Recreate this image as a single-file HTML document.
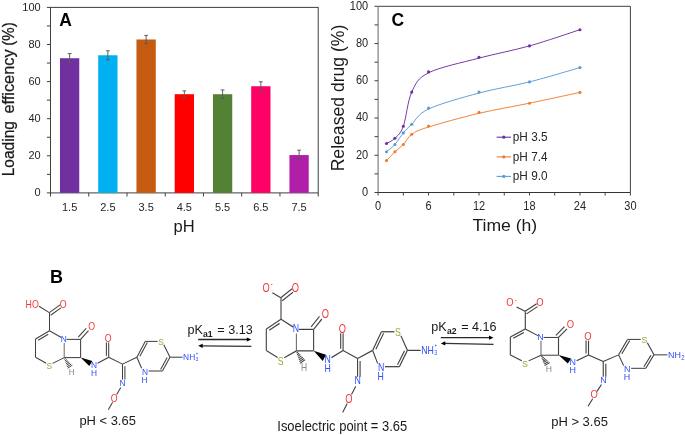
<!DOCTYPE html>
<html><head><meta charset="utf-8"><style>
html,body{margin:0;padding:0;background:#fff;}
body{width:685px;height:435px;overflow:hidden;font-family:"Liberation Sans",sans-serif;}
svg{display:block;will-change:transform;}
</style></head><body>
<svg width="685" height="435" viewBox="0 0 685 435">
<rect width="685" height="435" fill="#fff"/>
<rect x="50.5" y="7.4" width="267.7" height="185.5" fill="none" stroke="#404040" stroke-width="1"/>
<line x1="46.9" y1="192.90" x2="50.5" y2="192.90" stroke="#404040" stroke-width="1"/>
<text x="0" y="0" transform="translate(40.6 196.30) scale(1 1.07)" text-anchor="end" font-size="11" fill="#262626" font-family="Liberation Sans, sans-serif">0</text>
<line x1="46.9" y1="174.35" x2="50.5" y2="174.35" stroke="#404040" stroke-width="1"/>
<line x1="46.9" y1="155.80" x2="50.5" y2="155.80" stroke="#404040" stroke-width="1"/>
<text x="0" y="0" transform="translate(40.6 159.20) scale(1 1.07)" text-anchor="end" font-size="11" fill="#262626" font-family="Liberation Sans, sans-serif">20</text>
<line x1="46.9" y1="137.25" x2="50.5" y2="137.25" stroke="#404040" stroke-width="1"/>
<line x1="46.9" y1="118.70" x2="50.5" y2="118.70" stroke="#404040" stroke-width="1"/>
<text x="0" y="0" transform="translate(40.6 122.10) scale(1 1.07)" text-anchor="end" font-size="11" fill="#262626" font-family="Liberation Sans, sans-serif">40</text>
<line x1="46.9" y1="100.15" x2="50.5" y2="100.15" stroke="#404040" stroke-width="1"/>
<line x1="46.9" y1="81.60" x2="50.5" y2="81.60" stroke="#404040" stroke-width="1"/>
<text x="0" y="0" transform="translate(40.6 85.00) scale(1 1.07)" text-anchor="end" font-size="11" fill="#262626" font-family="Liberation Sans, sans-serif">60</text>
<line x1="46.9" y1="63.05" x2="50.5" y2="63.05" stroke="#404040" stroke-width="1"/>
<line x1="46.9" y1="44.50" x2="50.5" y2="44.50" stroke="#404040" stroke-width="1"/>
<text x="0" y="0" transform="translate(40.6 47.90) scale(1 1.07)" text-anchor="end" font-size="11" fill="#262626" font-family="Liberation Sans, sans-serif">80</text>
<line x1="46.9" y1="25.95" x2="50.5" y2="25.95" stroke="#404040" stroke-width="1"/>
<line x1="46.9" y1="7.40" x2="50.5" y2="7.40" stroke="#404040" stroke-width="1"/>
<text x="0" y="0" transform="translate(40.6 10.80) scale(1 1.07)" text-anchor="end" font-size="11" fill="#262626" font-family="Liberation Sans, sans-serif">100</text>
<rect x="59.97" y="58.23" width="19.3" height="134.67" fill="#7030A0"/>
<path d="M67.72 53.59H71.52M69.62 53.59V62.86M67.72 62.86H71.52" stroke="#5a5a5a" stroke-width="0.95" fill="none"/>
<text x="69.62" y="210.5" text-anchor="middle" font-size="11" fill="#262626" font-family="Liberation Sans, sans-serif">1.5</text>
<rect x="98.21" y="55.26" width="19.3" height="137.64" fill="#00B0F0"/>
<path d="M105.96 50.81H109.76M107.86 50.81V59.71M105.96 59.71H109.76" stroke="#5a5a5a" stroke-width="0.95" fill="none"/>
<text x="107.86" y="210.5" text-anchor="middle" font-size="11" fill="#262626" font-family="Liberation Sans, sans-serif">2.5</text>
<rect x="136.46" y="39.49" width="19.3" height="153.41" fill="#C55A11"/>
<path d="M144.21 35.41H148.01M146.11 35.41V43.57M144.21 43.57H148.01" stroke="#5a5a5a" stroke-width="0.95" fill="none"/>
<text x="146.11" y="210.5" text-anchor="middle" font-size="11" fill="#262626" font-family="Liberation Sans, sans-serif">3.5</text>
<rect x="174.70" y="94.21" width="19.3" height="98.69" fill="#FF0000"/>
<path d="M182.45 90.88H186.25M184.35 90.88V97.55M182.45 97.55H186.25" stroke="#5a5a5a" stroke-width="0.95" fill="none"/>
<text x="184.35" y="210.5" text-anchor="middle" font-size="11" fill="#262626" font-family="Liberation Sans, sans-serif">4.5</text>
<rect x="212.94" y="94.21" width="19.3" height="98.69" fill="#548235"/>
<path d="M220.69 89.95H224.49M222.59 89.95V98.48M220.69 98.48H224.49" stroke="#5a5a5a" stroke-width="0.95" fill="none"/>
<text x="222.59" y="210.5" text-anchor="middle" font-size="11" fill="#262626" font-family="Liberation Sans, sans-serif">5.5</text>
<rect x="251.19" y="86.24" width="19.3" height="106.66" fill="#FF0066"/>
<path d="M258.94 81.79H262.74M260.84 81.79V90.69M258.94 90.69H262.74" stroke="#5a5a5a" stroke-width="0.95" fill="none"/>
<text x="260.84" y="210.5" text-anchor="middle" font-size="11" fill="#262626" font-family="Liberation Sans, sans-serif">6.5</text>
<rect x="289.43" y="155.06" width="19.3" height="37.84" fill="#B11FA8"/>
<path d="M297.18 150.23H300.98M299.08 150.23V159.88M297.18 159.88H300.98" stroke="#5a5a5a" stroke-width="0.95" fill="none"/>
<text x="299.08" y="210.5" text-anchor="middle" font-size="11" fill="#262626" font-family="Liberation Sans, sans-serif">7.5</text>
<line x1="50.50" y1="192.9" x2="50.50" y2="196.5" stroke="#404040" stroke-width="1"/>
<line x1="88.74" y1="192.9" x2="88.74" y2="196.5" stroke="#404040" stroke-width="1"/>
<line x1="126.99" y1="192.9" x2="126.99" y2="196.5" stroke="#404040" stroke-width="1"/>
<line x1="165.23" y1="192.9" x2="165.23" y2="196.5" stroke="#404040" stroke-width="1"/>
<line x1="203.47" y1="192.9" x2="203.47" y2="196.5" stroke="#404040" stroke-width="1"/>
<line x1="241.71" y1="192.9" x2="241.71" y2="196.5" stroke="#404040" stroke-width="1"/>
<line x1="279.96" y1="192.9" x2="279.96" y2="196.5" stroke="#404040" stroke-width="1"/>
<line x1="318.20" y1="192.9" x2="318.20" y2="196.5" stroke="#404040" stroke-width="1"/>
<g transform="translate(14.3 0) rotate(-90)" font-size="16" fill="#1a1a1a" stroke="#1a1a1a" stroke-width="0.25" font-family="Liberation Sans, sans-serif"><text x="-176.3" y="0" textLength="55.2" lengthAdjust="spacingAndGlyphs">Loading</text><text x="-113.6" y="0" textLength="64.2" lengthAdjust="spacingAndGlyphs">efficency</text><text x="-45.7" y="0" textLength="23.4" lengthAdjust="spacingAndGlyphs">(%)</text></g>
<text x="184.1" y="231.7" text-anchor="middle" font-size="16.5" fill="#1a1a1a" font-family="Liberation Sans, sans-serif">pH</text>
<text x="59.3" y="25.8" font-size="17.5" font-weight="bold" fill="#000" font-family="Liberation Sans, sans-serif">A</text>
<path d="M378.1 6.3H630.4V192.5" fill="none" stroke="#404040" stroke-width="1"/>
<line x1="378.1" y1="192.5" x2="630.4" y2="192.5" stroke="#333" stroke-width="1.1"/>
<line x1="378.1" y1="6.3" x2="378.1" y2="192.5" stroke="#7f7f7f" stroke-width="1.2"/>
<line x1="374.5" y1="192.50" x2="378.1" y2="192.50" stroke="#404040" stroke-width="1"/>
<text x="0" y="0" transform="translate(368.2 195.80) scale(1 1.11)" text-anchor="end" font-size="11" fill="#262626" font-family="Liberation Sans, sans-serif">0</text>
<line x1="374.5" y1="173.88" x2="378.1" y2="173.88" stroke="#404040" stroke-width="1"/>
<line x1="374.5" y1="155.26" x2="378.1" y2="155.26" stroke="#404040" stroke-width="1"/>
<text x="0" y="0" transform="translate(368.2 158.56) scale(1 1.11)" text-anchor="end" font-size="11" fill="#262626" font-family="Liberation Sans, sans-serif">20</text>
<line x1="374.5" y1="136.64" x2="378.1" y2="136.64" stroke="#404040" stroke-width="1"/>
<line x1="374.5" y1="118.02" x2="378.1" y2="118.02" stroke="#404040" stroke-width="1"/>
<text x="0" y="0" transform="translate(368.2 121.32) scale(1 1.11)" text-anchor="end" font-size="11" fill="#262626" font-family="Liberation Sans, sans-serif">40</text>
<line x1="374.5" y1="99.40" x2="378.1" y2="99.40" stroke="#404040" stroke-width="1"/>
<line x1="374.5" y1="80.78" x2="378.1" y2="80.78" stroke="#404040" stroke-width="1"/>
<text x="0" y="0" transform="translate(368.2 84.08) scale(1 1.11)" text-anchor="end" font-size="11" fill="#262626" font-family="Liberation Sans, sans-serif">60</text>
<line x1="374.5" y1="62.16" x2="378.1" y2="62.16" stroke="#404040" stroke-width="1"/>
<line x1="374.5" y1="43.54" x2="378.1" y2="43.54" stroke="#404040" stroke-width="1"/>
<text x="0" y="0" transform="translate(368.2 46.84) scale(1 1.11)" text-anchor="end" font-size="11" fill="#262626" font-family="Liberation Sans, sans-serif">80</text>
<line x1="374.5" y1="24.92" x2="378.1" y2="24.92" stroke="#404040" stroke-width="1"/>
<line x1="374.5" y1="6.30" x2="378.1" y2="6.30" stroke="#404040" stroke-width="1"/>
<text x="0" y="0" transform="translate(368.2 9.60) scale(1 1.11)" text-anchor="end" font-size="11" fill="#262626" font-family="Liberation Sans, sans-serif">100</text>
<line x1="378.10" y1="192.5" x2="378.10" y2="195.5" stroke="#404040" stroke-width="1"/>
<text x="0" y="0" transform="translate(378.10 209.8) scale(1 1.12)" text-anchor="middle" font-size="11" fill="#262626" font-family="Liberation Sans, sans-serif">0</text>
<line x1="403.33" y1="192.5" x2="403.33" y2="195.5" stroke="#404040" stroke-width="1"/>
<line x1="428.56" y1="192.5" x2="428.56" y2="195.5" stroke="#404040" stroke-width="1"/>
<text x="0" y="0" transform="translate(428.56 209.8) scale(1 1.12)" text-anchor="middle" font-size="11" fill="#262626" font-family="Liberation Sans, sans-serif">6</text>
<line x1="453.79" y1="192.5" x2="453.79" y2="195.5" stroke="#404040" stroke-width="1"/>
<line x1="479.02" y1="192.5" x2="479.02" y2="195.5" stroke="#404040" stroke-width="1"/>
<text x="0" y="0" transform="translate(479.02 209.8) scale(1 1.12)" text-anchor="middle" font-size="11" fill="#262626" font-family="Liberation Sans, sans-serif">12</text>
<line x1="504.25" y1="192.5" x2="504.25" y2="195.5" stroke="#404040" stroke-width="1"/>
<line x1="529.48" y1="192.5" x2="529.48" y2="195.5" stroke="#404040" stroke-width="1"/>
<text x="0" y="0" transform="translate(529.48 209.8) scale(1 1.12)" text-anchor="middle" font-size="11" fill="#262626" font-family="Liberation Sans, sans-serif">18</text>
<line x1="554.71" y1="192.5" x2="554.71" y2="195.5" stroke="#404040" stroke-width="1"/>
<line x1="579.94" y1="192.5" x2="579.94" y2="195.5" stroke="#404040" stroke-width="1"/>
<text x="0" y="0" transform="translate(579.94 209.8) scale(1 1.12)" text-anchor="middle" font-size="11" fill="#262626" font-family="Liberation Sans, sans-serif">24</text>
<line x1="605.17" y1="192.5" x2="605.17" y2="195.5" stroke="#404040" stroke-width="1"/>
<line x1="630.40" y1="192.5" x2="630.40" y2="195.5" stroke="#404040" stroke-width="1"/>
<text x="0" y="0" transform="translate(630.40 209.8) scale(1 1.12)" text-anchor="middle" font-size="11" fill="#262626" font-family="Liberation Sans, sans-serif">30</text>
<text x="0" y="0" transform="translate(343.6 98) rotate(-90)" text-anchor="middle" font-size="17.6" fill="#1a1a1a" font-family="Liberation Sans, sans-serif">Released drug (%)</text>
<text x="0" y="0" transform="translate(504.8 230.8) scale(1.067 1)" text-anchor="middle" font-size="16.5" fill="#1a1a1a" font-family="Liberation Sans, sans-serif">Time (h)</text>
<text x="391.5" y="25.7" font-size="17.5" font-weight="bold" fill="#000" font-family="Liberation Sans, sans-serif">C</text>
<path d="M386.51 143.50C387.91 142.63 392.12 141.17 394.92 138.30C397.72 135.43 400.53 134.00 403.33 126.30C406.13 118.60 407.54 101.02 411.74 92.10C415.94 83.18 417.35 78.47 428.56 72.80C439.77 67.13 462.20 62.58 479.02 58.10C495.84 53.62 512.66 50.63 529.48 45.90C546.30 41.17 571.53 32.40 579.94 29.70" fill="none" stroke="#7030A0" stroke-width="0.95"/>
<circle cx="386.51" cy="143.50" r="1.55" fill="#7030A0"/>
<circle cx="394.92" cy="138.30" r="1.55" fill="#7030A0"/>
<circle cx="403.33" cy="126.30" r="1.55" fill="#7030A0"/>
<circle cx="411.74" cy="92.10" r="1.55" fill="#7030A0"/>
<circle cx="428.56" cy="71.90" r="1.55" fill="#7030A0"/>
<circle cx="479.02" cy="57.20" r="1.55" fill="#7030A0"/>
<circle cx="529.48" cy="45.90" r="1.55" fill="#7030A0"/>
<circle cx="579.94" cy="29.70" r="1.55" fill="#7030A0"/>
<path d="M386.51 160.60C387.91 159.13 392.12 154.48 394.92 151.80C397.72 149.12 400.53 147.42 403.33 144.50C406.13 141.58 407.54 137.22 411.74 134.30C415.94 131.38 417.35 130.50 428.56 127.00C439.77 123.50 462.20 117.27 479.02 113.30C495.84 109.33 512.66 106.68 529.48 103.20C546.30 99.72 571.53 94.20 579.94 92.40" fill="none" stroke="#ED7D31" stroke-width="0.95"/>
<circle cx="386.51" cy="160.60" r="1.55" fill="#ED7D31"/>
<circle cx="394.92" cy="151.80" r="1.55" fill="#ED7D31"/>
<circle cx="403.33" cy="144.50" r="1.55" fill="#ED7D31"/>
<circle cx="411.74" cy="134.30" r="1.55" fill="#ED7D31"/>
<circle cx="428.56" cy="126.10" r="1.55" fill="#ED7D31"/>
<circle cx="479.02" cy="112.40" r="1.55" fill="#ED7D31"/>
<circle cx="529.48" cy="103.20" r="1.55" fill="#ED7D31"/>
<circle cx="579.94" cy="92.40" r="1.55" fill="#ED7D31"/>
<path d="M386.51 151.70C387.91 150.50 392.12 147.63 394.92 144.50C397.72 141.37 400.53 136.28 403.33 132.90C406.13 129.52 407.54 128.18 411.74 124.20C415.94 120.22 417.35 114.20 428.56 109.00C439.77 103.80 462.20 97.52 479.02 93.00C495.84 88.48 512.66 86.13 529.48 81.90C546.30 77.67 571.53 69.98 579.94 67.60" fill="none" stroke="#5B9BD5" stroke-width="0.95"/>
<circle cx="386.51" cy="151.70" r="1.55" fill="#5B9BD5"/>
<circle cx="394.92" cy="144.50" r="1.55" fill="#5B9BD5"/>
<circle cx="403.33" cy="132.90" r="1.55" fill="#5B9BD5"/>
<circle cx="411.74" cy="124.20" r="1.55" fill="#5B9BD5"/>
<circle cx="428.56" cy="108.10" r="1.55" fill="#5B9BD5"/>
<circle cx="479.02" cy="92.10" r="1.55" fill="#5B9BD5"/>
<circle cx="529.48" cy="81.90" r="1.55" fill="#5B9BD5"/>
<circle cx="579.94" cy="67.60" r="1.55" fill="#5B9BD5"/>
<line x1="496.6" y1="137.2" x2="511" y2="137.2" stroke="#7030A0" stroke-width="1.1"/>
<circle cx="503.8" cy="137.2" r="1.6" fill="#7030A0"/>
<text x="0" y="0" transform="translate(512.8 141.2) scale(1 1.1)" font-size="11.8" fill="#262626" font-family="Liberation Sans, sans-serif">pH 3.5</text>
<line x1="496.6" y1="156.9" x2="511" y2="156.9" stroke="#ED7D31" stroke-width="1.1"/>
<circle cx="503.8" cy="156.9" r="1.6" fill="#ED7D31"/>
<text x="0" y="0" transform="translate(512.8 160.9) scale(1 1.1)" font-size="11.8" fill="#262626" font-family="Liberation Sans, sans-serif">pH 7.4</text>
<line x1="496.6" y1="176.4" x2="511" y2="176.4" stroke="#5B9BD5" stroke-width="1.1"/>
<circle cx="503.8" cy="176.4" r="1.6" fill="#5B9BD5"/>
<text x="0" y="0" transform="translate(512.8 180.4) scale(1 1.1)" font-size="11.8" fill="#262626" font-family="Liberation Sans, sans-serif">pH 9.0</text>
<text x="50" y="282.8" font-size="18" font-weight="bold" fill="#000" font-family="Liberation Sans, sans-serif">B</text>
<g><text transform="translate(32.2 307.5) scale(0.95 1.2)" text-anchor="middle" font-size="9.3" fill="#f0393c" font-family="Liberation Sans, sans-serif">HO</text>
<text transform="translate(63.2 307.5) scale(0.95 1.2)" text-anchor="middle" font-size="9.3" fill="#f0393c" font-family="Liberation Sans, sans-serif">O</text>
<line x1="39" y1="306.3" x2="49.3" y2="312.6" stroke="#404040" stroke-width="1.05"/>
<line x1="49.3" y1="312.6" x2="60.1" y2="304.9" stroke="#404040" stroke-width="1.05"/>
<line x1="50.6" y1="315.2" x2="60.9" y2="307.9" stroke="#404040" stroke-width="1.05"/>
<line x1="49.5" y1="312.6" x2="49.5" y2="330.8" stroke="#404040" stroke-width="1.05"/>
<line x1="49.5" y1="330.8" x2="61.3" y2="337.5" stroke="#404040" stroke-width="1.05"/>
<text transform="translate(63.8 341.9) scale(0.9 1.05)" text-anchor="middle" font-size="9.3" fill="#3050f8" font-family="Liberation Sans, sans-serif">N</text>
<line x1="49.5" y1="330.8" x2="35.5" y2="339" stroke="#404040" stroke-width="1.05"/>
<line x1="48.2" y1="334.3" x2="38.2" y2="340.2" stroke="#404040" stroke-width="1.05"/>
<line x1="35.5" y1="339" x2="35.5" y2="357.3" stroke="#404040" stroke-width="1.05"/>
<line x1="35.5" y1="357.3" x2="46.2" y2="363.2" stroke="#404040" stroke-width="1.05"/>
<text transform="translate(49.3 369.2) scale(0.9 1.05)" text-anchor="middle" font-size="9.3" fill="#a3a33a" font-family="Liberation Sans, sans-serif">S</text>
<line x1="52.6" y1="363.4" x2="64.2" y2="357.6" stroke="#404040" stroke-width="1.05"/>
<line x1="64.2" y1="357.6" x2="64.2" y2="342.9" stroke="#707070" stroke-width="1.05"/>
<line x1="66.6" y1="339.4" x2="80.6" y2="339.4" stroke="#404040" stroke-width="1.05"/>
<line x1="80.6" y1="339.4" x2="80.6" y2="357.6" stroke="#404040" stroke-width="1.05"/>
<line x1="64.2" y1="357.6" x2="80.6" y2="357.6" stroke="#404040" stroke-width="1.05"/>
<line x1="80.6" y1="339.4" x2="88.5" y2="330.6" stroke="#404040" stroke-width="1.05"/>
<line x1="78.2" y1="337.2" x2="86.2" y2="328.4" stroke="#404040" stroke-width="1.05"/>
<text transform="translate(91.7 330.0) scale(0.95 1.2)" text-anchor="middle" font-size="9.3" fill="#f0393c" font-family="Liberation Sans, sans-serif">O</text>
<line x1="64.33" y1="359.34" x2="65.72" y2="358.46" stroke="#3a3a3a" stroke-width="0.95"/>
<line x1="64.88" y1="360.82" x2="66.82" y2="359.58" stroke="#3a3a3a" stroke-width="0.95"/>
<line x1="65.43" y1="362.29" x2="67.92" y2="360.71" stroke="#3a3a3a" stroke-width="0.95"/>
<line x1="65.98" y1="363.76" x2="69.02" y2="361.84" stroke="#3a3a3a" stroke-width="0.95"/>
<line x1="66.53" y1="365.24" x2="70.12" y2="362.96" stroke="#3a3a3a" stroke-width="0.95"/>
<line x1="67.08" y1="366.71" x2="71.22" y2="364.09" stroke="#3a3a3a" stroke-width="0.95"/>
<line x1="67.63" y1="368.19" x2="72.32" y2="365.21" stroke="#3a3a3a" stroke-width="0.95"/>
<text transform="translate(71.6 374.7) scale(0.9 1.05)" text-anchor="middle" font-size="9.0" fill="#8a8a8a" font-family="Liberation Sans, sans-serif">H</text>
<polygon points="80.6,357.4 89.3,366.1 92.4,360.9" fill="#000"/>
<text transform="translate(94.0 368.1) scale(0.9 1.05)" text-anchor="middle" font-size="9.3" fill="#3050f8" font-family="Liberation Sans, sans-serif">N</text>
<text transform="translate(94.0 375.6) scale(0.9 1.05)" text-anchor="middle" font-size="9.3" fill="#3050f8" font-family="Liberation Sans, sans-serif">H</text>
<line x1="97.6" y1="363.3" x2="108.7" y2="357.3" stroke="#404040" stroke-width="1.05"/>
<line x1="108.7" y1="357.3" x2="108.7" y2="342.6" stroke="#404040" stroke-width="1.05"/>
<line x1="106.4" y1="355.8" x2="106.4" y2="342.6" stroke="#404040" stroke-width="1.05"/>
<text transform="translate(108.1 342.4) scale(0.95 1.2)" text-anchor="middle" font-size="9.3" fill="#f0393c" font-family="Liberation Sans, sans-serif">O</text>
<line x1="108.7" y1="357.3" x2="122.5" y2="364.1" stroke="#404040" stroke-width="1.05"/>
<line x1="122.5" y1="364.1" x2="122.5" y2="379.6" stroke="#404040" stroke-width="1.05"/>
<line x1="124.9" y1="366.2" x2="124.9" y2="379.6" stroke="#404040" stroke-width="1.05"/>
<text transform="translate(122.6 385.7) scale(0.9 1.05)" text-anchor="middle" font-size="9.3" fill="#3050f8" font-family="Liberation Sans, sans-serif">N</text>
<line x1="120.8" y1="387.6" x2="116.7" y2="394.6" stroke="#404040" stroke-width="1.05"/>
<text transform="translate(114.1 401.6) scale(0.95 1.2)" text-anchor="middle" font-size="9.3" fill="#f0393c" font-family="Liberation Sans, sans-serif">O</text>
<line x1="112.6" y1="402.2" x2="108.3" y2="409.8" stroke="#404040" stroke-width="1.05"/>
<line x1="122.5" y1="364.1" x2="136.9" y2="357.2" stroke="#404040" stroke-width="1.05"/>
<line x1="136.9" y1="357.2" x2="145.2" y2="341.4" stroke="#404040" stroke-width="1.05"/>
<line x1="139.9" y1="356.2" x2="147.3" y2="342.6" stroke="#404040" stroke-width="1.05"/>
<line x1="145.2" y1="341.4" x2="157.6" y2="341.4" stroke="#404040" stroke-width="1.05"/>
<text transform="translate(161.0 344.8) scale(0.9 1.05)" text-anchor="middle" font-size="9.3" fill="#a3a33a" font-family="Liberation Sans, sans-serif">S</text>
<line x1="163.8" y1="344.8" x2="170" y2="357.2" stroke="#404040" stroke-width="1.05"/>
<line x1="170" y1="357.2" x2="162.4" y2="371" stroke="#404040" stroke-width="1.05"/>
<line x1="167.2" y1="357.6" x2="160.6" y2="369.4" stroke="#404040" stroke-width="1.05"/>
<line x1="162.4" y1="371" x2="148.6" y2="371" stroke="#404040" stroke-width="1.05"/>
<text transform="translate(144.9 374.5) scale(0.9 1.05)" text-anchor="middle" font-size="9.3" fill="#3050f8" font-family="Liberation Sans, sans-serif">N</text>
<text transform="translate(144.6 382.6) scale(0.9 1.05)" text-anchor="middle" font-size="9.3" fill="#3050f8" font-family="Liberation Sans, sans-serif">H</text>
<line x1="141.6" y1="368.2" x2="136.9" y2="357.2" stroke="#404040" stroke-width="1.05"/>
<line x1="170" y1="357.2" x2="182.6" y2="357.2" stroke="#404040" stroke-width="1.05"/>
<text transform="translate(183.1 360.2) scale(0.9 1.05)" text-anchor="start" font-size="9.3" fill="#3050f8" font-family="Liberation Sans, sans-serif">NH</text>
<text transform="translate(195.5 361.2) scale(0.9 1.05)" text-anchor="start" font-size="5.6" fill="#3050f8" font-family="Liberation Sans, sans-serif">3</text>
<text transform="translate(195.8 354.6) scale(0.9 1.05)" text-anchor="start" font-size="4.8" fill="#3050f8" font-family="Liberation Sans, sans-serif">+</text></g>
<g transform="matrix(1.049 0 0 1.1796 229.07 -70.96)"><text transform="translate(35.2 307.5) scale(0.95 1.2)" text-anchor="middle" font-size="9.3" fill="#f0393c" font-family="Liberation Sans, sans-serif">O</text>
<text transform="translate(40.6 303.4) scale(0.9 1.05)" text-anchor="middle" font-size="7" fill="#f0393c" font-family="Liberation Sans, sans-serif">-</text>
<text transform="translate(63.2 307.5) scale(0.95 1.2)" text-anchor="middle" font-size="9.3" fill="#f0393c" font-family="Liberation Sans, sans-serif">O</text>
<line x1="41.3" y1="308.3" x2="49.3" y2="312.6" stroke="#404040" stroke-width="1.05"/>
<line x1="49.3" y1="312.6" x2="60.1" y2="304.9" stroke="#404040" stroke-width="1.05"/>
<line x1="50.6" y1="315.2" x2="60.9" y2="307.9" stroke="#404040" stroke-width="1.05"/>
<line x1="49.5" y1="312.6" x2="49.5" y2="330.8" stroke="#404040" stroke-width="1.05"/>
<line x1="49.5" y1="330.8" x2="61.3" y2="337.5" stroke="#404040" stroke-width="1.05"/>
<text transform="translate(63.8 341.9) scale(0.9 1.05)" text-anchor="middle" font-size="9.3" fill="#3050f8" font-family="Liberation Sans, sans-serif">N</text>
<line x1="49.5" y1="330.8" x2="35.5" y2="339" stroke="#404040" stroke-width="1.05"/>
<line x1="48.2" y1="334.3" x2="38.2" y2="340.2" stroke="#404040" stroke-width="1.05"/>
<line x1="35.5" y1="339" x2="35.5" y2="357.3" stroke="#404040" stroke-width="1.05"/>
<line x1="35.5" y1="357.3" x2="46.2" y2="363.2" stroke="#404040" stroke-width="1.05"/>
<text transform="translate(49.3 369.2) scale(0.9 1.05)" text-anchor="middle" font-size="9.3" fill="#a3a33a" font-family="Liberation Sans, sans-serif">S</text>
<line x1="52.6" y1="363.4" x2="64.2" y2="357.6" stroke="#404040" stroke-width="1.05"/>
<line x1="64.2" y1="357.6" x2="64.2" y2="342.9" stroke="#707070" stroke-width="1.05"/>
<line x1="66.6" y1="339.4" x2="80.6" y2="339.4" stroke="#404040" stroke-width="1.05"/>
<line x1="80.6" y1="339.4" x2="80.6" y2="357.6" stroke="#404040" stroke-width="1.05"/>
<line x1="64.2" y1="357.6" x2="80.6" y2="357.6" stroke="#404040" stroke-width="1.05"/>
<line x1="80.6" y1="339.4" x2="88.5" y2="330.6" stroke="#404040" stroke-width="1.05"/>
<line x1="78.2" y1="337.2" x2="86.2" y2="328.4" stroke="#404040" stroke-width="1.05"/>
<text transform="translate(91.7 330.0) scale(0.95 1.2)" text-anchor="middle" font-size="9.3" fill="#f0393c" font-family="Liberation Sans, sans-serif">O</text>
<line x1="64.33" y1="359.34" x2="65.72" y2="358.46" stroke="#3a3a3a" stroke-width="0.95"/>
<line x1="64.88" y1="360.82" x2="66.82" y2="359.58" stroke="#3a3a3a" stroke-width="0.95"/>
<line x1="65.43" y1="362.29" x2="67.92" y2="360.71" stroke="#3a3a3a" stroke-width="0.95"/>
<line x1="65.98" y1="363.76" x2="69.02" y2="361.84" stroke="#3a3a3a" stroke-width="0.95"/>
<line x1="66.53" y1="365.24" x2="70.12" y2="362.96" stroke="#3a3a3a" stroke-width="0.95"/>
<line x1="67.08" y1="366.71" x2="71.22" y2="364.09" stroke="#3a3a3a" stroke-width="0.95"/>
<line x1="67.63" y1="368.19" x2="72.32" y2="365.21" stroke="#3a3a3a" stroke-width="0.95"/>
<text transform="translate(71.6 374.7) scale(0.9 1.05)" text-anchor="middle" font-size="9.0" fill="#8a8a8a" font-family="Liberation Sans, sans-serif">H</text>
<polygon points="80.6,357.4 89.3,366.1 92.4,360.9" fill="#000"/>
<text transform="translate(94.0 368.1) scale(0.9 1.05)" text-anchor="middle" font-size="9.3" fill="#3050f8" font-family="Liberation Sans, sans-serif">N</text>
<text transform="translate(94.0 375.6) scale(0.9 1.05)" text-anchor="middle" font-size="9.3" fill="#3050f8" font-family="Liberation Sans, sans-serif">H</text>
<line x1="97.6" y1="363.3" x2="108.7" y2="357.3" stroke="#404040" stroke-width="1.05"/>
<line x1="108.7" y1="357.3" x2="108.7" y2="342.6" stroke="#404040" stroke-width="1.05"/>
<line x1="106.4" y1="355.8" x2="106.4" y2="342.6" stroke="#404040" stroke-width="1.05"/>
<text transform="translate(108.1 342.4) scale(0.95 1.2)" text-anchor="middle" font-size="9.3" fill="#f0393c" font-family="Liberation Sans, sans-serif">O</text>
<line x1="108.7" y1="357.3" x2="122.5" y2="364.1" stroke="#404040" stroke-width="1.05"/>
<line x1="122.5" y1="364.1" x2="122.5" y2="379.6" stroke="#404040" stroke-width="1.05"/>
<line x1="124.9" y1="366.2" x2="124.9" y2="379.6" stroke="#404040" stroke-width="1.05"/>
<text transform="translate(122.6 385.7) scale(0.9 1.05)" text-anchor="middle" font-size="9.3" fill="#3050f8" font-family="Liberation Sans, sans-serif">N</text>
<line x1="120.8" y1="387.6" x2="116.7" y2="394.6" stroke="#404040" stroke-width="1.05"/>
<text transform="translate(114.1 401.6) scale(0.95 1.2)" text-anchor="middle" font-size="9.3" fill="#f0393c" font-family="Liberation Sans, sans-serif">O</text>
<line x1="112.6" y1="402.2" x2="108.3" y2="409.8" stroke="#404040" stroke-width="1.05"/>
<line x1="122.5" y1="364.1" x2="136.9" y2="357.2" stroke="#404040" stroke-width="1.05"/>
<line x1="136.9" y1="357.2" x2="145.2" y2="341.4" stroke="#404040" stroke-width="1.05"/>
<line x1="139.9" y1="356.2" x2="147.3" y2="342.6" stroke="#404040" stroke-width="1.05"/>
<line x1="145.2" y1="341.4" x2="157.6" y2="341.4" stroke="#404040" stroke-width="1.05"/>
<text transform="translate(161.0 344.8) scale(0.9 1.05)" text-anchor="middle" font-size="9.3" fill="#a3a33a" font-family="Liberation Sans, sans-serif">S</text>
<line x1="163.8" y1="344.8" x2="170" y2="357.2" stroke="#404040" stroke-width="1.05"/>
<line x1="170" y1="357.2" x2="162.4" y2="371" stroke="#404040" stroke-width="1.05"/>
<line x1="167.2" y1="357.6" x2="160.6" y2="369.4" stroke="#404040" stroke-width="1.05"/>
<line x1="162.4" y1="371" x2="148.6" y2="371" stroke="#404040" stroke-width="1.05"/>
<text transform="translate(144.9 374.5) scale(0.9 1.05)" text-anchor="middle" font-size="9.3" fill="#3050f8" font-family="Liberation Sans, sans-serif">N</text>
<text transform="translate(144.6 382.6) scale(0.9 1.05)" text-anchor="middle" font-size="9.3" fill="#3050f8" font-family="Liberation Sans, sans-serif">H</text>
<line x1="141.6" y1="368.2" x2="136.9" y2="357.2" stroke="#404040" stroke-width="1.05"/>
<line x1="170" y1="357.2" x2="182.6" y2="357.2" stroke="#404040" stroke-width="1.05"/>
<text transform="translate(183.1 360.2) scale(0.9 1.05)" text-anchor="start" font-size="9.3" fill="#3050f8" font-family="Liberation Sans, sans-serif">NH</text>
<text transform="translate(195.5 361.2) scale(0.9 1.05)" text-anchor="start" font-size="5.6" fill="#3050f8" font-family="Liberation Sans, sans-serif">3</text>
<text transform="translate(195.8 354.6) scale(0.9 1.05)" text-anchor="start" font-size="4.8" fill="#3050f8" font-family="Liberation Sans, sans-serif">+</text></g>
<g transform="matrix(1.0678 0 0 0.9769 472.44 5.89)"><text transform="translate(35.2 307.5) scale(0.95 1.2)" text-anchor="middle" font-size="9.3" fill="#f0393c" font-family="Liberation Sans, sans-serif">O</text>
<text transform="translate(40.6 303.4) scale(0.9 1.05)" text-anchor="middle" font-size="7" fill="#f0393c" font-family="Liberation Sans, sans-serif">-</text>
<text transform="translate(63.2 307.5) scale(0.95 1.2)" text-anchor="middle" font-size="9.3" fill="#f0393c" font-family="Liberation Sans, sans-serif">O</text>
<line x1="41.3" y1="308.3" x2="49.3" y2="312.6" stroke="#404040" stroke-width="1.05"/>
<line x1="49.3" y1="312.6" x2="60.1" y2="304.9" stroke="#404040" stroke-width="1.05"/>
<line x1="50.6" y1="315.2" x2="60.9" y2="307.9" stroke="#404040" stroke-width="1.05"/>
<line x1="49.5" y1="312.6" x2="49.5" y2="330.8" stroke="#404040" stroke-width="1.05"/>
<line x1="49.5" y1="330.8" x2="61.3" y2="337.5" stroke="#404040" stroke-width="1.05"/>
<text transform="translate(63.8 341.9) scale(0.9 1.05)" text-anchor="middle" font-size="9.3" fill="#3050f8" font-family="Liberation Sans, sans-serif">N</text>
<line x1="49.5" y1="330.8" x2="35.5" y2="339" stroke="#404040" stroke-width="1.05"/>
<line x1="48.2" y1="334.3" x2="38.2" y2="340.2" stroke="#404040" stroke-width="1.05"/>
<line x1="35.5" y1="339" x2="35.5" y2="357.3" stroke="#404040" stroke-width="1.05"/>
<line x1="35.5" y1="357.3" x2="46.2" y2="363.2" stroke="#404040" stroke-width="1.05"/>
<text transform="translate(49.3 369.2) scale(0.9 1.05)" text-anchor="middle" font-size="9.3" fill="#a3a33a" font-family="Liberation Sans, sans-serif">S</text>
<line x1="52.6" y1="363.4" x2="64.2" y2="357.6" stroke="#404040" stroke-width="1.05"/>
<line x1="64.2" y1="357.6" x2="64.2" y2="342.9" stroke="#707070" stroke-width="1.05"/>
<line x1="66.6" y1="339.4" x2="80.6" y2="339.4" stroke="#404040" stroke-width="1.05"/>
<line x1="80.6" y1="339.4" x2="80.6" y2="357.6" stroke="#404040" stroke-width="1.05"/>
<line x1="64.2" y1="357.6" x2="80.6" y2="357.6" stroke="#404040" stroke-width="1.05"/>
<line x1="80.6" y1="339.4" x2="88.5" y2="330.6" stroke="#404040" stroke-width="1.05"/>
<line x1="78.2" y1="337.2" x2="86.2" y2="328.4" stroke="#404040" stroke-width="1.05"/>
<text transform="translate(91.7 330.0) scale(0.95 1.2)" text-anchor="middle" font-size="9.3" fill="#f0393c" font-family="Liberation Sans, sans-serif">O</text>
<line x1="64.33" y1="359.34" x2="65.72" y2="358.46" stroke="#3a3a3a" stroke-width="0.95"/>
<line x1="64.88" y1="360.82" x2="66.82" y2="359.58" stroke="#3a3a3a" stroke-width="0.95"/>
<line x1="65.43" y1="362.29" x2="67.92" y2="360.71" stroke="#3a3a3a" stroke-width="0.95"/>
<line x1="65.98" y1="363.76" x2="69.02" y2="361.84" stroke="#3a3a3a" stroke-width="0.95"/>
<line x1="66.53" y1="365.24" x2="70.12" y2="362.96" stroke="#3a3a3a" stroke-width="0.95"/>
<line x1="67.08" y1="366.71" x2="71.22" y2="364.09" stroke="#3a3a3a" stroke-width="0.95"/>
<line x1="67.63" y1="368.19" x2="72.32" y2="365.21" stroke="#3a3a3a" stroke-width="0.95"/>
<text transform="translate(71.6 374.7) scale(0.9 1.05)" text-anchor="middle" font-size="9.0" fill="#8a8a8a" font-family="Liberation Sans, sans-serif">H</text>
<polygon points="80.6,357.4 89.3,366.1 92.4,360.9" fill="#000"/>
<text transform="translate(94.0 368.1) scale(0.9 1.05)" text-anchor="middle" font-size="9.3" fill="#3050f8" font-family="Liberation Sans, sans-serif">N</text>
<text transform="translate(94.0 375.6) scale(0.9 1.05)" text-anchor="middle" font-size="9.3" fill="#3050f8" font-family="Liberation Sans, sans-serif">H</text>
<line x1="97.6" y1="363.3" x2="108.7" y2="357.3" stroke="#404040" stroke-width="1.05"/>
<line x1="108.7" y1="357.3" x2="108.7" y2="342.6" stroke="#404040" stroke-width="1.05"/>
<line x1="106.4" y1="355.8" x2="106.4" y2="342.6" stroke="#404040" stroke-width="1.05"/>
<text transform="translate(108.1 342.4) scale(0.95 1.2)" text-anchor="middle" font-size="9.3" fill="#f0393c" font-family="Liberation Sans, sans-serif">O</text>
<line x1="108.7" y1="357.3" x2="122.5" y2="364.1" stroke="#404040" stroke-width="1.05"/>
<line x1="122.5" y1="364.1" x2="122.5" y2="379.6" stroke="#404040" stroke-width="1.05"/>
<line x1="124.9" y1="366.2" x2="124.9" y2="379.6" stroke="#404040" stroke-width="1.05"/>
<text transform="translate(122.6 385.7) scale(0.9 1.05)" text-anchor="middle" font-size="9.3" fill="#3050f8" font-family="Liberation Sans, sans-serif">N</text>
<line x1="120.8" y1="387.6" x2="116.7" y2="394.6" stroke="#404040" stroke-width="1.05"/>
<text transform="translate(114.1 401.6) scale(0.95 1.2)" text-anchor="middle" font-size="9.3" fill="#f0393c" font-family="Liberation Sans, sans-serif">O</text>
<line x1="112.6" y1="402.2" x2="108.3" y2="409.8" stroke="#404040" stroke-width="1.05"/>
<line x1="122.5" y1="364.1" x2="136.9" y2="357.2" stroke="#404040" stroke-width="1.05"/>
<line x1="136.9" y1="357.2" x2="145.2" y2="341.4" stroke="#404040" stroke-width="1.05"/>
<line x1="139.9" y1="356.2" x2="147.3" y2="342.6" stroke="#404040" stroke-width="1.05"/>
<line x1="145.2" y1="341.4" x2="157.6" y2="341.4" stroke="#404040" stroke-width="1.05"/>
<text transform="translate(161.0 344.8) scale(0.9 1.05)" text-anchor="middle" font-size="9.3" fill="#a3a33a" font-family="Liberation Sans, sans-serif">S</text>
<line x1="163.8" y1="344.8" x2="170" y2="357.2" stroke="#404040" stroke-width="1.05"/>
<line x1="170" y1="357.2" x2="162.4" y2="371" stroke="#404040" stroke-width="1.05"/>
<line x1="167.2" y1="357.6" x2="160.6" y2="369.4" stroke="#404040" stroke-width="1.05"/>
<line x1="162.4" y1="371" x2="148.6" y2="371" stroke="#404040" stroke-width="1.05"/>
<text transform="translate(144.9 374.5) scale(0.9 1.05)" text-anchor="middle" font-size="9.3" fill="#3050f8" font-family="Liberation Sans, sans-serif">N</text>
<text transform="translate(144.6 382.6) scale(0.9 1.05)" text-anchor="middle" font-size="9.3" fill="#3050f8" font-family="Liberation Sans, sans-serif">H</text>
<line x1="141.6" y1="368.2" x2="136.9" y2="357.2" stroke="#404040" stroke-width="1.05"/>
<line x1="170" y1="357.2" x2="182.6" y2="357.2" stroke="#404040" stroke-width="1.05"/>
<text transform="translate(183.1 360.2) scale(0.9 1.05)" text-anchor="start" font-size="9.3" fill="#3050f8" font-family="Liberation Sans, sans-serif">NH</text>
<text transform="translate(195.6 362.4) scale(0.9 1.05)" text-anchor="start" font-size="6.2" fill="#3050f8" font-family="Liberation Sans, sans-serif">2</text></g>
<line x1="198.2" y1="339.5" x2="248.3" y2="339.5" stroke="#262626" stroke-width="1.3"/>
<polygon points="251.3,339.5 246.8,337.4 246.8,341.6" fill="#000"/>
<line x1="201.2" y1="345.85" x2="251.3" y2="346.4" stroke="#333" stroke-width="1.3"/>
<polygon points="198.2,345.85 202.7,343.75 202.7,347.95000000000005" fill="#000"/>
<line x1="440.8" y1="337.7" x2="490.5" y2="337.7" stroke="#262626" stroke-width="1.3"/>
<polygon points="493.5,337.7 489.0,335.59999999999997 489.0,339.8" fill="#000"/>
<line x1="443.8" y1="343.4" x2="493.5" y2="344.4" stroke="#333" stroke-width="1.3"/>
<polygon points="440.8,343.4 445.3,341.29999999999995 445.3,345.5" fill="#000"/>
<text x="187.4" y="333.7" font-size="12.6" fill="#1a1a1a" font-family="Liberation Sans, sans-serif">pK<tspan font-size="8.6" font-weight="bold" dy="2.8" dx="0.3">a1</tspan><tspan dy="-2.8" dx="1.2"> = 3.13</tspan></text>
<text x="431.2" y="331.0" font-size="12.6" fill="#1a1a1a" font-family="Liberation Sans, sans-serif">pK<tspan font-size="8.6" font-weight="bold" dy="2.8" dx="0.3">a2</tspan><tspan dy="-2.8" dx="1.2"> = 4.16</tspan></text>
<text x="79.4" y="425.3" font-size="12.95" fill="#1a1a1a" font-family="Liberation Sans, sans-serif">pH &lt; 3.65</text>
<text x="0" y="0" transform="translate(277.3 430.9) scale(1 1.1)" font-size="12.95" fill="#1a1a1a" font-family="Liberation Sans, sans-serif">Isoelectric point = 3.65</text>
<text x="551.2" y="426.2" font-size="13.0" fill="#1a1a1a" font-family="Liberation Sans, sans-serif">pH &gt; 3.65</text>
</svg>
</body></html>
